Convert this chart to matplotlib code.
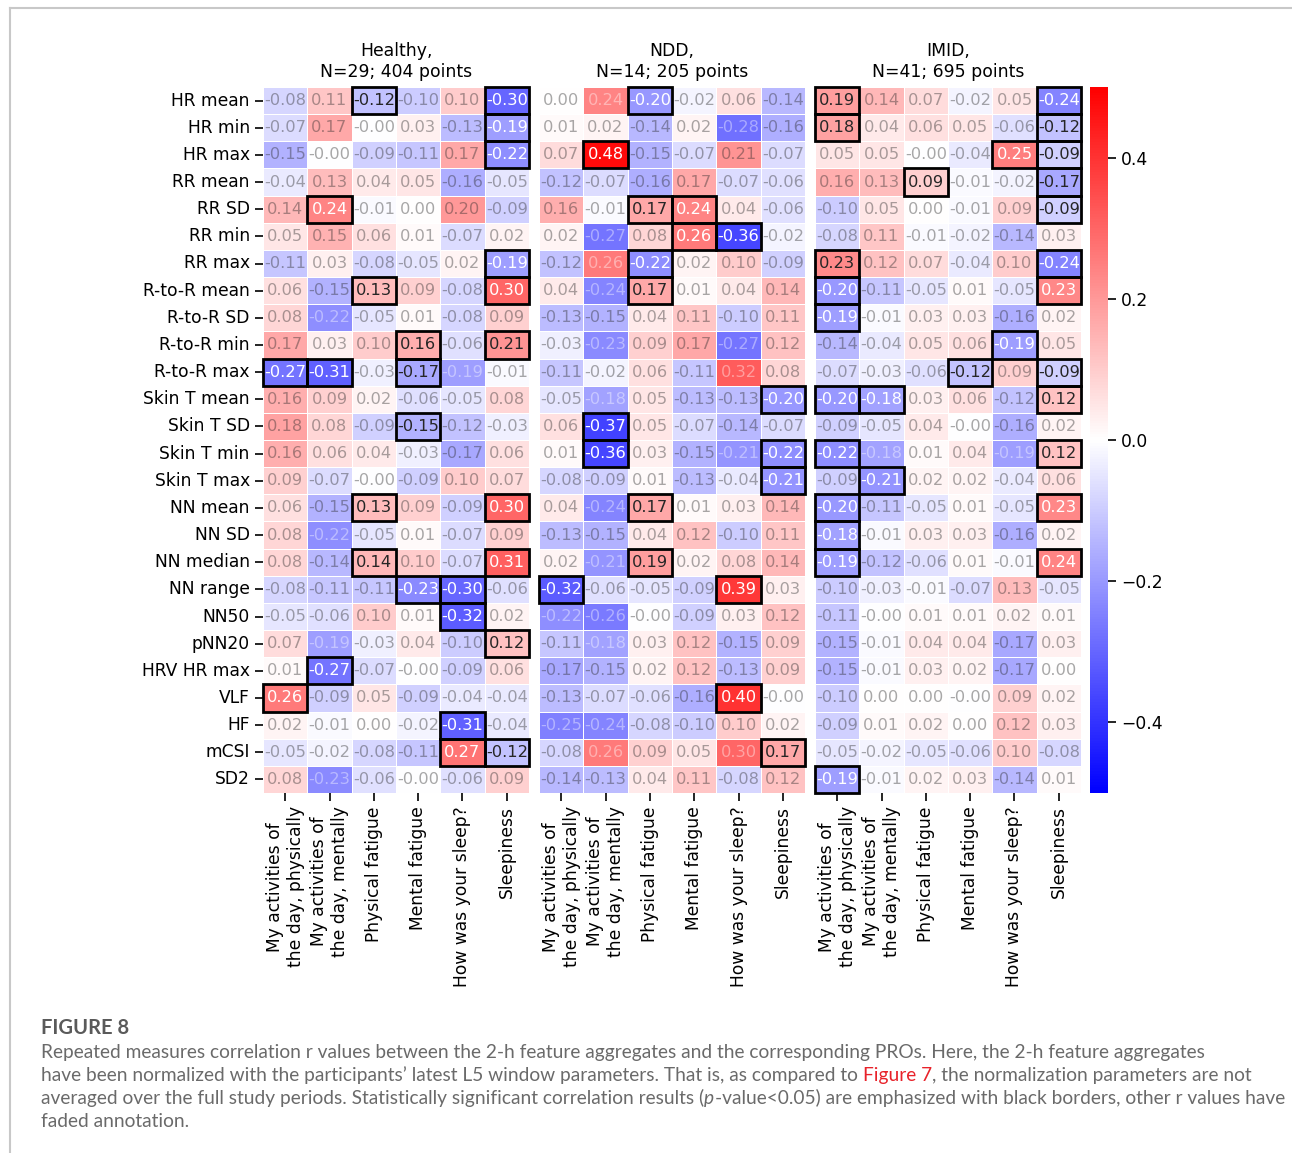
import matplotlib
matplotlib.use("Agg")
import matplotlib.pyplot as plt
from matplotlib.patches import Rectangle
from matplotlib.lines import Line2D
import numpy as np
import seaborn as sns

features = ["HR mean", "HR min", "HR max", "RR mean", "RR SD", "RR min", "RR max",
            "R-to-R mean", "R-to-R SD", "R-to-R min", "R-to-R max",
            "Skin T mean", "Skin T SD", "Skin T min", "Skin T max",
            "NN mean", "NN SD", "NN median", "NN range", "NN50", "pNN20",
            "HRV HR max", "VLF", "HF", "mCSI", "SD2"]
pros = ["My activities of\nthe day, physically", "My activities of\nthe day, mentally",
        "Physical fatigue", "Mental fatigue", "How was your sleep?", "Sleepiness"]
titles = ["Healthy,\nN=29; 404 points", "NDD,\nN=14; 205 points", "IMID,\nN=41; 695 points"]

# r values (-0.001 -> printed as "-0.00")
healthy_r = [
    [-0.08, 0.11, -0.12, -0.10, 0.10, -0.30],
    [-0.07, 0.17, -0.001, 0.03, -0.13, -0.19],
    [-0.15, -0.001, -0.09, -0.11, 0.17, -0.22],
    [-0.04, 0.13, 0.04, 0.05, -0.16, -0.05],
    [0.14, 0.24, -0.01, 0.00, 0.20, -0.09],
    [0.05, 0.15, 0.06, 0.01, -0.07, 0.02],
    [-0.11, 0.03, -0.08, -0.05, 0.02, -0.19],
    [0.06, -0.15, 0.13, 0.09, -0.08, 0.30],
    [0.08, -0.22, -0.05, 0.01, -0.08, 0.09],
    [0.17, 0.03, 0.10, 0.16, -0.06, 0.21],
    [-0.27, -0.31, -0.03, -0.17, -0.19, -0.01],
    [0.16, 0.09, 0.02, -0.06, -0.05, 0.08],
    [0.18, 0.08, -0.09, -0.15, -0.12, -0.03],
    [0.16, 0.06, 0.04, -0.03, -0.17, 0.06],
    [0.09, -0.07, -0.001, -0.09, 0.10, 0.07],
    [0.06, -0.15, 0.13, 0.09, -0.09, 0.30],
    [0.08, -0.22, -0.05, 0.01, -0.07, 0.09],
    [0.08, -0.14, 0.14, 0.10, -0.07, 0.31],
    [-0.08, -0.11, -0.11, -0.23, -0.30, -0.06],
    [-0.05, -0.06, 0.10, 0.01, -0.32, 0.02],
    [0.07, -0.19, -0.03, 0.04, -0.10, 0.12],
    [0.01, -0.27, -0.07, -0.001, -0.09, 0.06],
    [0.26, -0.09, 0.05, -0.09, -0.04, -0.04],
    [0.02, -0.01, 0.00, -0.02, -0.31, -0.04],
    [-0.05, -0.02, -0.08, -0.11, 0.27, -0.12],
    [0.08, -0.23, -0.06, -0.001, -0.06, 0.09],
]
ndd_r = [
    [0.00, 0.24, -0.20, -0.02, 0.06, -0.14],
    [0.01, 0.02, -0.14, 0.02, -0.28, -0.16],
    [0.07, 0.48, -0.15, -0.07, 0.21, -0.07],
    [-0.12, -0.07, -0.16, 0.17, -0.07, -0.06],
    [0.16, -0.01, 0.17, 0.24, 0.04, -0.06],
    [0.02, -0.27, 0.08, 0.26, -0.36, -0.02],
    [-0.12, 0.26, -0.22, 0.02, 0.10, -0.09],
    [0.04, -0.24, 0.17, 0.01, 0.04, 0.14],
    [-0.13, -0.15, 0.04, 0.11, -0.10, 0.11],
    [-0.03, -0.23, 0.09, 0.17, -0.27, 0.12],
    [-0.11, -0.02, 0.06, -0.11, 0.32, 0.08],
    [-0.05, -0.18, 0.05, -0.13, -0.13, -0.20],
    [0.06, -0.37, 0.05, -0.07, -0.14, -0.07],
    [0.01, -0.36, 0.03, -0.15, -0.21, -0.22],
    [-0.08, -0.09, 0.01, -0.13, -0.04, -0.21],
    [0.04, -0.24, 0.17, 0.01, 0.03, 0.14],
    [-0.13, -0.15, 0.04, 0.12, -0.10, 0.11],
    [0.02, -0.21, 0.19, 0.02, 0.08, 0.14],
    [-0.32, -0.06, -0.05, -0.09, 0.39, 0.03],
    [-0.22, -0.26, -0.001, -0.09, 0.03, 0.12],
    [-0.11, -0.18, 0.03, 0.12, -0.15, 0.09],
    [-0.17, -0.15, 0.02, 0.12, -0.13, 0.09],
    [-0.13, -0.07, -0.06, -0.16, 0.40, -0.001],
    [-0.25, -0.24, -0.08, -0.10, 0.10, 0.02],
    [-0.08, 0.26, 0.09, 0.05, 0.30, 0.17],
    [-0.14, -0.13, 0.04, 0.11, -0.08, 0.12],
]
imid_r = [
    [0.19, 0.14, 0.07, -0.02, 0.05, -0.24],
    [0.18, 0.04, 0.06, 0.05, -0.06, -0.12],
    [0.05, 0.05, -0.001, -0.04, 0.25, -0.09],
    [0.16, 0.13, 0.09, -0.01, -0.02, -0.17],
    [-0.10, 0.05, 0.00, -0.01, 0.09, -0.09],
    [-0.08, 0.11, -0.01, -0.02, -0.14, 0.03],
    [0.23, 0.12, 0.07, -0.04, 0.10, -0.24],
    [-0.20, -0.11, -0.05, 0.01, -0.05, 0.234],
    [-0.19, -0.01, 0.03, 0.03, -0.16, 0.02],
    [-0.14, -0.04, 0.05, 0.06, -0.19, 0.05],
    [-0.07, -0.03, -0.06, -0.12, 0.09, -0.09],
    [-0.20, -0.18, 0.03, 0.06, -0.12, 0.12],
    [-0.09, -0.05, 0.04, -0.001, -0.16, 0.02],
    [-0.22, -0.18, 0.01, 0.04, -0.19, 0.12],
    [-0.09, -0.21, 0.02, 0.02, -0.04, 0.06],
    [-0.20, -0.11, -0.05, 0.01, -0.05, 0.234],
    [-0.18, -0.01, 0.03, 0.03, -0.16, 0.02],
    [-0.19, -0.12, -0.06, 0.01, -0.01, 0.24],
    [-0.10, -0.03, -0.01, -0.07, 0.13, -0.05],
    [-0.11, -0.001, 0.01, 0.01, 0.02, 0.01],
    [-0.15, -0.01, 0.04, 0.04, -0.17, 0.03],
    [-0.15, -0.01, 0.03, 0.02, -0.17, 0.00],
    [-0.10, 0.00, 0.00, -0.001, 0.09, 0.02],
    [-0.09, 0.01, 0.02, 0.00, 0.12, 0.03],
    [-0.05, -0.02, -0.05, -0.06, 0.10, -0.08],
    [-0.19, -0.01, 0.02, 0.03, -0.14, 0.01],
]

# p < 0.05 masks, one string per feature row
healthy_sig = ["001001", "000001", "000001", "000000", "010000", "000000", "000001",
               "001001", "000000", "000101", "110100", "000000", "000100", "000000",
               "000000", "001001", "000000", "001001", "000110", "000010", "000001",
               "010000", "100000", "000010", "000011", "000000"]
ndd_sig = ["001000", "000000", "010000", "000000", "001100", "000110", "001000",
           "001000", "000000", "000000", "000000", "000001", "010000", "010001",
           "000001", "001000", "000000", "001000", "100010", "000000", "000000",
           "000000", "000010", "000000", "000001", "000000"]
imid_sig = ["100001", "100001", "000011", "001001", "000001", "000000", "100001",
            "100001", "100000", "000010", "000101", "110001", "000000", "100001",
            "010000", "100001", "100000", "100001", "000000", "000000", "000000",
            "000000", "000000", "000000", "000000", "100000"]

plt.rcParams["font.family"] = ["DejaVu Sans"]
plt.rcParams["xtick.major.size"] = 6
plt.rcParams["ytick.major.size"] = 6
plt.rcParams["xtick.major.width"] = 1.2
plt.rcParams["ytick.major.width"] = 1.2

W, H = 1292, 1153
fig = plt.figure(figsize=(W / 100, H / 100), dpi=100)

lefts = [263, 539, 815]
top, bottom = 87, 793
cax = fig.add_axes([1090 / W, 1 - bottom / H, 18 / W, (bottom - top) / H])

panels = [(healthy_r, healthy_sig), (ndd_r, ndd_sig), (imid_r, imid_sig)]
for k, (vals, sig) in enumerate(panels):
    ax = fig.add_axes([lefts[k] / W, 1 - bottom / H, 266 / W, (bottom - top) / H])
    data = np.array(vals)
    mask = np.array([[c == "1" for c in row] for row in sig])
    sns.heatmap(data, ax=ax, cmap="bwr", vmin=-0.5, vmax=0.5, annot=True, fmt=".2f",
                annot_kws={"fontsize": 11.7}, linewidths=0.5, linecolor="white",
                cbar=(k == 2), cbar_ax=cax if k == 2 else None,
                xticklabels=pros, yticklabels=features if k == 0 else False)
    # fade the non-significant annotations
    for t, s in zip(ax.texts, mask.ravel()):
        if not s:
            t.set_alpha(0.4)
    for i, j in zip(*np.nonzero(mask)):
        ax.add_patch(Rectangle((j, i), 1, 1, fill=False, edgecolor="black", lw=2, clip_on=False))
    ax.set_title(titles[k], fontsize=12.4, pad=7)
    ax.set_xticklabels(pros, rotation=90, fontsize=12.3)
    if k == 0:
        ax.set_yticklabels(features, rotation=0, fontsize=12.3)
    else:
        ax.tick_params(axis="y", left=False)

cax.tick_params(labelsize=12.3, length=6, width=1.2)
cax.set_yticks([-0.4, -0.2, 0.0, 0.2, 0.4])
for sp in cax.spines.values():
    sp.set_visible(False)

# page frame
fig.add_artist(Line2D([10 / W, 10 / W], [0, 1 - 8 / H], color="#c8c8c8", lw=1.5))
fig.add_artist(Line2D([10 / W, 1], [1 - 8 / H, 1 - 8 / H], color="#c8c8c8", lw=1.5))

# caption
lines = [
    [("Repeated measures correlation r values between the 2-h feature aggregates and the "
      "corresponding PROs. Here, the 2-h feature aggregates", {})],
    [("have been normalized with the participants\u2019 latest L5 window parameters. "
      "That is, as compared to ", {}), ("Figure 7", {"color": "#e8222a"}),
     (", the normalization parameters are not", {})],
    [("averaged over the full study periods. Statistically significant correlation results (", {}),
     ("p", {"style": "italic"}),
     ("-value<0.05) are emphasized with black borders, other r values have", {})],
    [("faded annotation.", {})],
]
baselines = [1058, 1081, 1104, 1127]
line_widths = [1179, 1222, 1221]  # pixel widths of the first three caption lines

renderer = fig.canvas.get_renderer()


def text_width(s, **kw):
    t = fig.text(0, 0, s, **kw)
    w = t.get_window_extent(renderer).width
    t.remove()
    return w


# pick a caption size so the lines come out about as wide as in the page
cap_family = "Lato"
ratios = [target / text_width("".join(p[0] for p in parts), family=cap_family, fontsize=10)
          for target, parts in zip(line_widths, lines)]
cap_font = dict(family=cap_family, fontsize=10 * float(np.mean(ratios)), color="#6a6a6a")

fig.text(41 / W, 1 - 1034 / H, "FIGURE 8", family=cap_family, fontsize=14.5,
         fontweight="bold", color="#5a5a5a", va="baseline")


def rich_line(y, parts):
    prefix = ""
    for s, extra in parts:
        off = text_width(prefix + "|", **cap_font) - text_width("|", **cap_font)
        kw = dict(cap_font)
        kw.update(extra)
        fig.text(41 / W + off / W, y, s, va="baseline", **kw)
        prefix += s


for yb, parts in zip(baselines, lines):
    rich_line(1 - yb / H, parts)

fig.savefig("out.png", dpi=100)
